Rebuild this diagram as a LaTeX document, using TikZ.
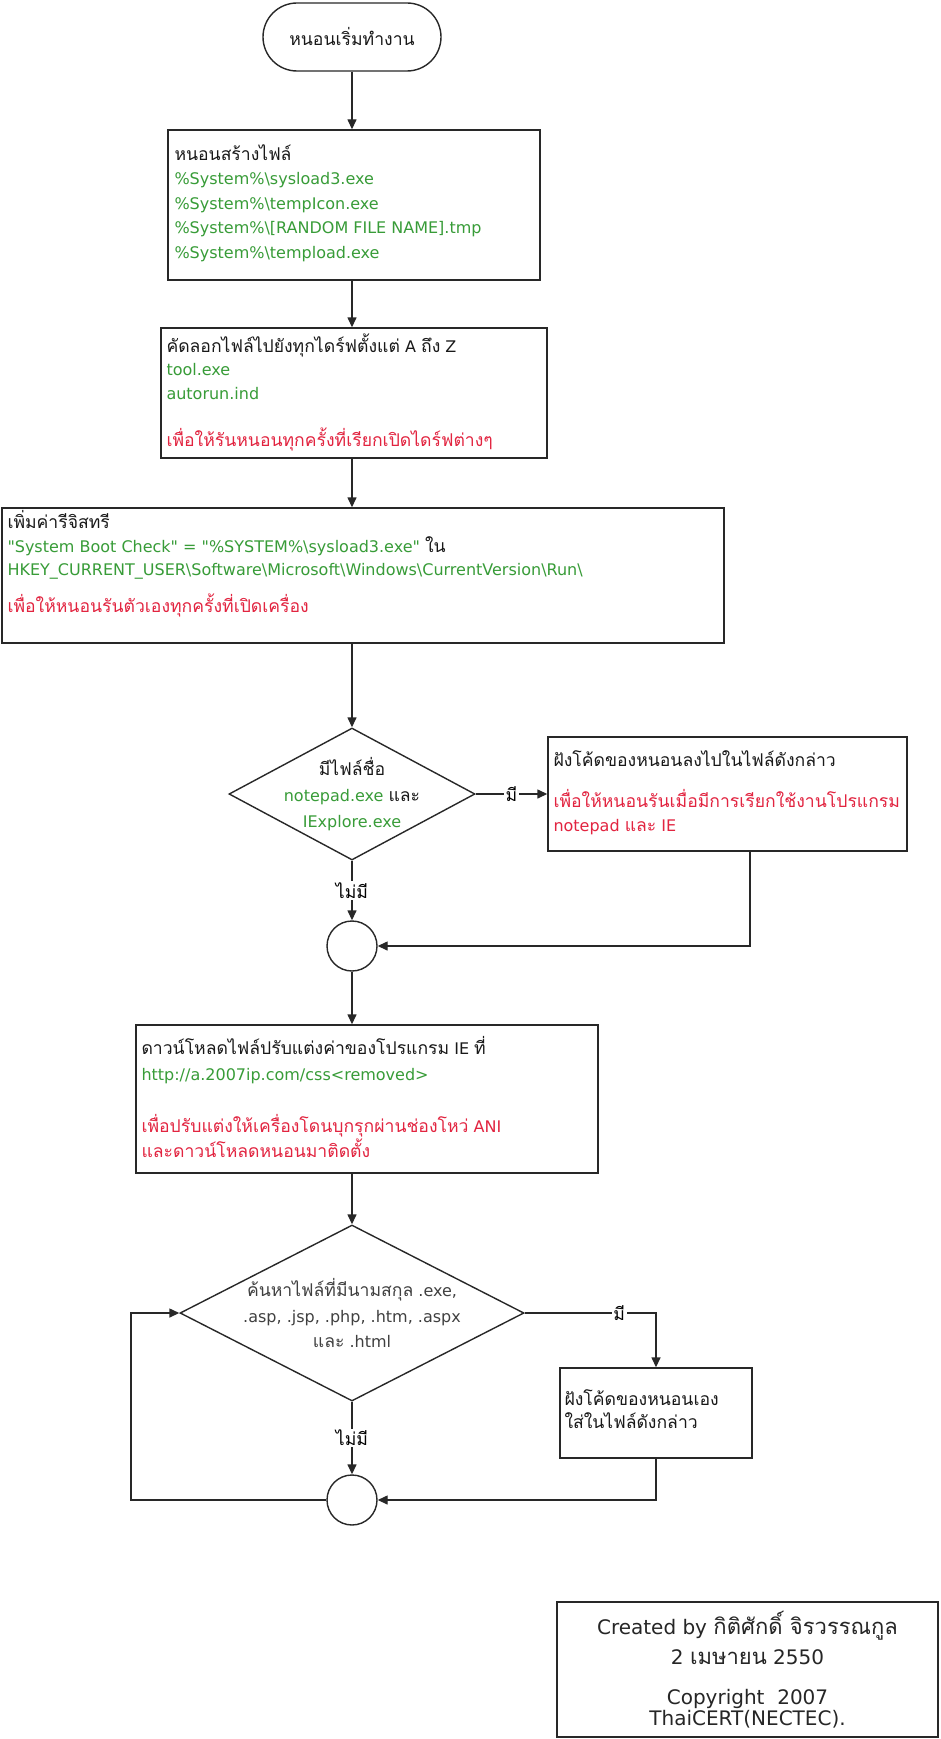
\documentclass[tikz,border=0pt]{standalone}
\usepackage{fontspec}
\setmainfont{DejaVu Sans}
\newfontfamily\qf{DejaVu Sans}
\newfontfamily\thaif[Script=Thai,Scale=1.1]{Loma}
\usetikzlibrary{arrows.meta,shapes.geometric}
\definecolor{tgreen}{RGB}{56,156,56}
\definecolor{tred}{RGB}{226,36,64}
\definecolor{tline}{RGB}{40,40,40}
\newcommand{\tht}[1]{{\thaif #1}}
\newcommand{\grn}[1]{\textcolor{tgreen}{#1}}
\newcommand{\rdd}[1]{\textcolor{tred}{#1}}
\newcommand{\bsl}{\textbackslash}
\tikzset{
  box/.style={draw=tline, line width=1.4pt, rectangle, inner sep=0pt},
  txt/.style={align=left, inner sep=0pt, font=\fontsize{16}{23.5}\selectfont, text=black!90},
  ctxt/.style={align=center, inner sep=0pt, font=\fontsize{16}{23}\selectfont, text=black!90},
  arr/.style={draw=tline, line width=1.4pt, -{Triangle[length=10pt,width=9pt]}},
  lbl/.style={fill=white, inner sep=1.5pt, font=\fontsize{16}{20}\selectfont},
}
\begin{document}
\begin{tikzpicture}[x=1pt,y=-1pt]
\useasboundingbox[fill=white] (0,0) rectangle (940,1739);
% axis helpers
\coordinate (r1x) at (750,0);
\coordinate (lx) at (131,0);
% shapes
\node[box, rounded corners=34pt, minimum width=178pt, minimum height=68pt] (start) at (352,37) {};
\node[ctxt] (st) at (start.center) {\tht{หนอนเริ่มทำงาน}};
\node[box, minimum width=372pt, minimum height=150pt] (b1) at (354,205) {};
\node[box, minimum width=386pt, minimum height=130pt] (b2) at (354,393) {};
\node[box, minimum width=722pt, minimum height=135pt] (b3) at (363,575.5) {};
\node[box, diamond, minimum width=246pt, minimum height=132pt] (d1) at (352,794) {};
\node[box, minimum width=359pt, minimum height=114pt] (b4) at (727.5,794) {};
\node[box, circle, minimum size=50pt] (c1) at (352,946) {};
\node[box, minimum width=462pt, minimum height=148pt] (b5) at (367,1099) {};
\node[box, diamond, minimum width=344pt, minimum height=176pt] (d2) at (352,1313) {};
\node[box, minimum width=192pt, minimum height=90pt] (b6) at (656,1413) {};
\node[box, circle, minimum size=50pt] (c2) at (352,1500) {};
\node[box, minimum width=381pt, minimum height=135pt] (cr) at (747.5,1669.5) {};
% texts
\node[txt, font=\fontsize{16}{24.5}\selectfont, anchor=north west] (t1) at ([xshift=7pt,yshift=-15pt]b1.north west)
 {\tht{หนอนสร้างไฟล์}\\
  \grn{\%System\%\bsl sysload3.exe}\\
  \grn{\%System\%\bsl tempIcon.exe}\\
  \grn{\%System\%\bsl [RANDOM FILE NAME].tmp}\\
  \grn{\%System\%\bsl tempload.exe}};
\node[txt, anchor=north west] (t2) at ([xshift=6pt,yshift=-6pt]b2.north west)
 {\tht{คัดลอกไฟล์ไปยังทุกไดร์ฟตั้งแต่} A \tht{ถึง} Z\\
  \grn{tool.exe}\\
  \grn{autorun.ind}\\[23.5pt]
  \rdd{\tht{เพื่อให้รันหนอนทุกครั้งที่เรียกเปิดไดร์ฟต่างๆ}}};
\node[txt, anchor=north west] (t3) at ([xshift=6pt,yshift=-3pt]b3.north west)
 {\tht{เพิ่มค่ารีจิสทรี}\\
  \grn{\qf "System Boot Check" = "\%SYSTEM\%\bsl sysload3.exe"} \tht{ใน}\\
  \grn{HKEY\_CURRENT\_USER\bsl Software\bsl Microsoft\bsl Windows\bsl CurrentVersion\bsl Run\bsl}\\[13pt]
  \rdd{\tht{เพื่อให้หนอนรันตัวเองทุกครั้งที่เปิดเครื่อง}}};
\node[ctxt, font=\fontsize{16}{26}\selectfont] (td1) at (d1.center)
 {\tht{มีไฟล์ชื่อ}\\
  \grn{notepad.exe} \tht{และ}\\
  \grn{IExplore.exe}};
\node[txt, anchor=north west] (t4) at ([xshift=6pt,yshift=-14pt]b4.north west)
 {\tht{ฝังโค้ดของหนอนลงไปในไฟล์ดังกล่าว}\\[18pt]
  \rdd{\tht{เพื่อให้หนอนรันเมื่อมีการเรียกใช้งานโปรแกรม}}\\
  \rdd{notepad \tht{และ} IE}};
\node[txt, font=\fontsize{16}{25.5}\selectfont, anchor=north west] (t5) at ([xshift=6pt,yshift=-12pt]b5.north west)
 {\tht{ดาวน์โหลดไฟล์ปรับแต่งค่าของโปรแกรม} IE \tht{ที่}\\
  \grn{http://a.2007ip.com/css<removed>}\\[26.5pt]
  \rdd{\tht{เพื่อปรับแต่งให้เครื่องโดนบุกรุกผ่านช่องโหว่} ANI}\\
  \rdd{\tht{และดาวน์โหลดหนอนมาติดตั้ง}}};
\node[ctxt, font=\fontsize{16}{25.5}\selectfont, text=black!75] (td2) at (d2.center)
 {\tht{ค้นหาไฟล์ที่มีนามสกุล} .exe,\\
  .asp, .jsp, .php, .htm, .aspx\\
  \tht{และ} .html};
\node[txt, anchor=north west] (t6) at ([xshift=5pt,yshift=-22pt]b6.north west)
 {\tht{ฝังโค้ดของหนอนเอง}\\
  \tht{ใส่ในไฟล์ดังกล่าว}};
\node[ctxt, font=\fontsize{20}{26}\selectfont, text=black!85] (tcr) at (cr.center)
 {Created by \tht{กิติศักดิ์ จิรวรรณกูล}\\[4pt]
  2 \tht{เมษายน} 2550\\[14pt]
  Copyright\ \ 2007\\[-5pt]
  ThaiCERT(NECTEC).};
% connectors
\draw[arr] (start.south) -- (start.south |- b1.north);
\draw[arr] (start.south |- b1.south) -- (start.south |- b2.north);
\draw[arr] (start.south |- b2.south) -- (start.south |- b3.north);
\draw[arr] (start.south |- b3.south) -- (d1.north);
\draw[arr] (d1.east) -- (d1.east -| b4.west) node[lbl, midway] {\tht{มี}};
\draw[arr] (d1.south) -- (c1.north) node[lbl, midway] {\tht{ไม่มี}};
\draw[arr] (b4.south -| r1x) |- (c1.east);
\draw[arr] (c1.south) -- (c1.south |- b5.north);
\draw[arr] (c1.south |- b5.south) -- (d2.north);
\draw[arr] (d2.east) -| (b6.north) node[lbl, pos=0.36] {\tht{มี}};
\draw[arr] (d2.south) -- (c2.north) node[lbl, midway] {\tht{ไม่มี}};
\draw[arr] (b6.south) |- (c2.east);
\draw[arr] (c2.west) -- (c2.west -| lx) |- (d2.west);
\end{tikzpicture}
\end{document}
